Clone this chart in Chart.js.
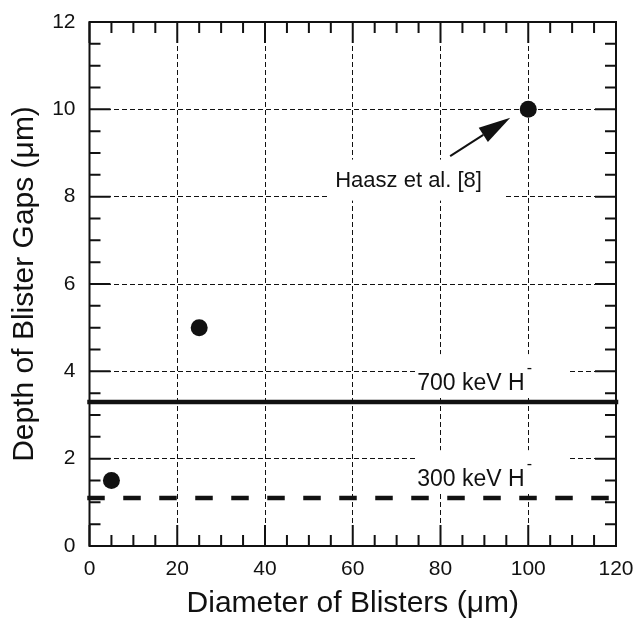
<!DOCTYPE html>
<html>
<head>
<meta charset="utf-8">
<script src="https://cdn.jsdelivr.net/npm/chart.js@4"></script>
<style>
html, body { margin: 0; padding: 0; background: #fff; }
</style>
</head>
<body>
<canvas id="chart" width="635" height="621"></canvas>
<script>
// data
const diameters = [5, 25, 100];
const depths = [1.5, 5, 10];
const rangeLabels = ['700 keV H', '300 keV H'];
const rangeDepths = [3.3, 1.1];
const xTickValues = [0, 20, 40, 60, 80, 100, 120];
const yTickValues = [0, 2, 4, 6, 8, 10, 12];
const refLabel = 'Haasz et al. [8]';

const FONT = '"Liberation Sans", Arial, Helvetica, sans-serif';
const INK = '#111';
const xMin = xTickValues[0], xMax = xTickValues[xTickValues.length - 1];
const yMin = yTickValues[0], yMax = yTickValues[yTickValues.length - 1];

// text notes, anchored in data units (left edge, baseline)
const notes = [
    { text: rangeLabels[0], x: 74.7, y: 3.57, size: 23, box: [-2, 151, -36, 6], minus: true },
    { text: rangeLabels[1], x: 74.7, y: 1.37, size: 23, box: [-2, 151, -36, 7], minus: true },
    { text: refLabel, x: 56, y: 8.23, size: 22, box: [-7, 170, -27, 14], minus: false }
];

const framePlugin = {
    id: 'frame',
    beforeDatasetsDraw(chart) {
        const { ctx, chartArea: a, scales: { x, y } } = chart;
        ctx.save();

        // white backing behind the notes, then the text
        notes.forEach(n => {
            const px = x.getPixelForValue(n.x);
            const py = y.getPixelForValue(n.y);
            ctx.fillStyle = '#fff';
            ctx.fillRect(px + n.box[0], py + n.box[2], n.box[1] - n.box[0], n.box[3] - n.box[2]);
            ctx.fillStyle = INK;
            ctx.font = n.size + 'px ' + FONT;
            ctx.textAlign = 'left';
            ctx.textBaseline = 'alphabetic';
            ctx.fillText(n.text, px, py);
            if (n.minus) {
                const w = ctx.measureText(n.text).width;
                ctx.font = '16px ' + FONT;
                ctx.fillText('-', px + w + 2, py - 17);
            }
        });

        // box around the plot and inward ticks on all sides
        ctx.strokeStyle = INK;
        ctx.lineWidth = 2;
        ctx.strokeRect(a.left, a.top, a.right - a.left, a.bottom - a.top);
        ctx.beginPath();
        for (let i = 0; i <= (xMax - xMin) / 5; i++) {
            const v = xMin + i * 5;
            const px = x.getPixelForValue(v);
            const len = v % 20 === 0 ? 21 : 11;
            ctx.moveTo(px, a.bottom); ctx.lineTo(px, a.bottom - len);
            ctx.moveTo(px, a.top); ctx.lineTo(px, a.top + len);
        }
        for (let i = 0; i <= (yMax - yMin) * 2; i++) {
            const v = yMin + i * 0.5;
            const py = y.getPixelForValue(v);
            const len = i % 4 === 0 ? 21 : 11;
            ctx.moveTo(a.left, py); ctx.lineTo(a.left + len, py);
            ctx.moveTo(a.right, py); ctx.lineTo(a.right - len, py);
        }
        ctx.stroke();
        ctx.restore();
    },
    afterDatasetsDraw(chart) {
        // arrow from the note to the Haasz point
        const { ctx, scales: { x, y } } = chart;
        const x0 = x.getPixelForValue(82.2), y0 = y.getPixelForValue(8.93);
        const x1 = x.getPixelForValue(95.9), y1 = y.getPixelForValue(9.81);
        const ang = Math.atan2(y1 - y0, x1 - x0);
        const hl = 32, hw = 8.5;
        const bx = x1 - hl * Math.cos(ang), by = y1 - hl * Math.sin(ang);
        ctx.save();
        ctx.strokeStyle = INK;
        ctx.fillStyle = INK;
        ctx.lineWidth = 2;
        ctx.beginPath();
        ctx.moveTo(x0, y0);
        ctx.lineTo(bx, by);
        ctx.stroke();
        ctx.beginPath();
        ctx.moveTo(x1, y1);
        ctx.lineTo(bx + hw * Math.sin(ang), by - hw * Math.cos(ang));
        ctx.lineTo(bx - hw * Math.sin(ang), by + hw * Math.cos(ang));
        ctx.closePath();
        ctx.fill();
        ctx.restore();
    }
};

new Chart(document.getElementById('chart'), {
    type: 'scatter',
    data: {
        datasets: [
            {
                label: 'blisters',
                data: diameters.map((d, i) => ({ x: d, y: depths[i] })),
                pointRadius: 8.5,
                pointBackgroundColor: INK,
                pointBorderWidth: 0,
                showLine: false
            },
            {
                label: rangeLabels[0],
                data: [{ x: xMin, y: rangeDepths[0] }, { x: xMax, y: rangeDepths[0] }],
                showLine: true,
                borderColor: INK,
                borderWidth: 4.5,
                borderCapStyle: 'square',
                pointRadius: 0,
                clip: false
            },
            {
                label: rangeLabels[1],
                data: [{ x: xMin, y: rangeDepths[1] }, { x: xMax, y: rangeDepths[1] }],
                showLine: true,
                borderColor: INK,
                borderWidth: 4.5,
                borderDash: [13, 23],
                borderCapStyle: 'square',
                pointRadius: 0,
                clip: false
            }
        ]
    },
    options: {
        responsive: false,
        animation: false,
        devicePixelRatio: 1,
        layout: { padding: { top: 22, right: 19, left: 0, bottom: 0 } },
        plugins: {
            legend: { display: false },
            tooltip: { enabled: false }
        },
        scales: {
            x: {
                type: 'linear',
                min: xMin,
                max: xMax,
                afterBuildTicks: s => { s.ticks = xTickValues.map(v => ({ value: v })); },
                afterFit: s => { s.height = 75; s.paddingLeft = 0; s.paddingRight = 0; },
                grid: { color: INK, lineWidth: 1, drawTicks: false },
                border: { display: false, dash: [5, 3] },
                ticks: { color: INK, padding: 11, maxRotation: 0, font: { family: FONT, size: 21 } },
                title: {
                    display: true,
                    text: 'Diameter of Blisters (μm)',
                    color: INK,
                    font: { family: FONT, size: 30, lineHeight: 1 },
                    padding: { top: 0, bottom: 2 }
                }
            },
            y: {
                type: 'linear',
                min: yMin,
                max: yMax,
                afterBuildTicks: s => { s.ticks = yTickValues.map(v => ({ value: v })); },
                afterFit: s => { s.width = 89.5; s.paddingTop = 0; s.paddingBottom = 0; },
                grid: { color: INK, lineWidth: 1, drawTicks: false },
                border: { display: false, dash: [5, 3] },
                ticks: { color: INK, padding: 14, font: { family: FONT, size: 21 } },
                title: {
                    display: true,
                    text: 'Depth of Blister Gaps (μm)',
                    color: INK,
                    font: { family: FONT, size: 30, lineHeight: 1 },
                    padding: { top: 10, bottom: 0 }
                }
            }
        }
    },
    plugins: [framePlugin]
});
</script>
</body>
</html>
